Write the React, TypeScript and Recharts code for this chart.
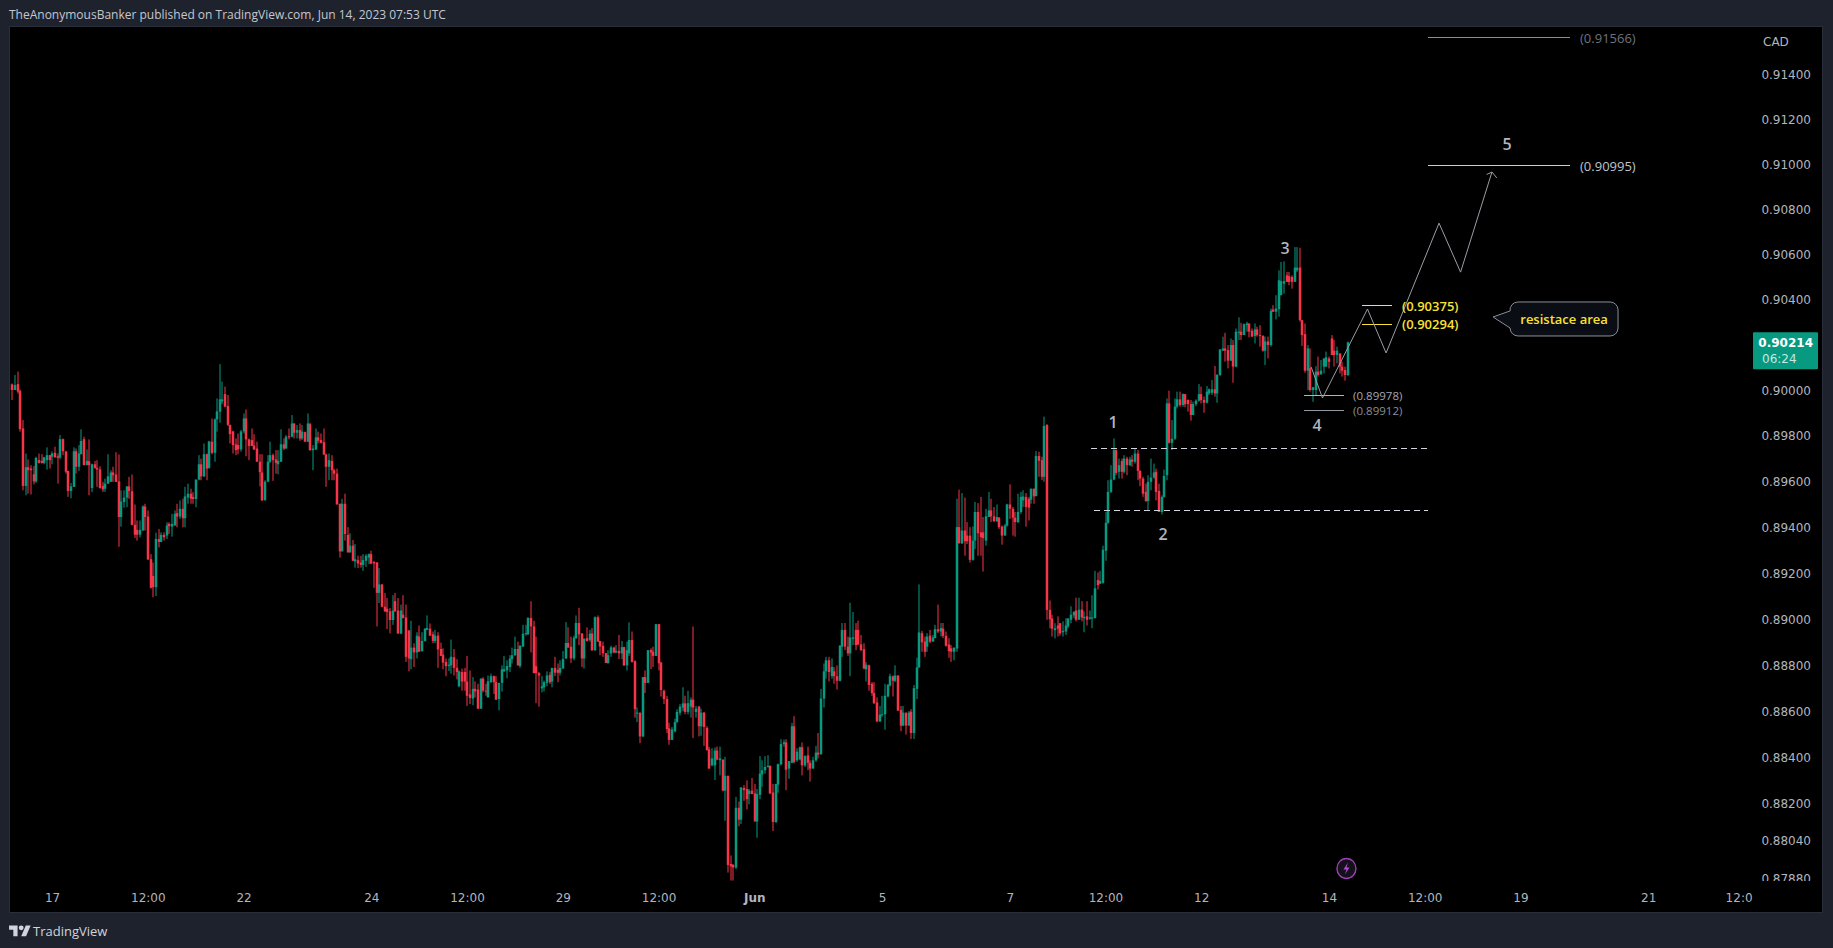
import React from "react";
import { ComposedChart, Bar, XAxis, YAxis, ReferenceLine, ReferenceDot } from "recharts";

// Hourly USD/CAD style candles: [open, high, low, close] in 1e-5 price units.
const candlesMid: number[][] = [
[90029,90033,89960,90004],[90004,90070,90004,90026],[90030,90085,89989,89997],[90000,90007,89821,89832],[89835,89872,89564,89583],
[89583,89725,89542,89665],[89665,89699,89549,89652],[89659,89674,89546,89652],[89634,89670,89590,89603],[89603,89711,89596,89706],
[89696,89725,89681,89684],[89693,89722,89681,89684],[89684,89711,89678,89708],[89696,89752,89655,89718],[89718,89718,89659,89696],
[89711,89734,89678,89725],[89728,89755,89708,89708],[89713,89725,89593,89706],[89708,89806,89699,89788],[89788,89791,89718,89735],
[89734,89737,89637,89645],[89649,89649,89535,89561],[89561,89596,89529,89581],[89579,89752,89579,89735],[89735,89747,89637,89667],
[89667,89762,89649,89725],[89722,89831,89722,89780],[89788,89799,89674,89674],[89674,89743,89674,89693],[89691,89787,89542,89674],
[89574,89681,89556,89678],[89678,89693,89659,89662],[89662,89696,89579,89655],[89656,89669,89571,89574],[89583,89601,89557,89568],
[89571,89615,89557,89593],[89593,89722,89593,89625],[89601,89652,89601,89642],[89642,89667,89601,89630],[89633,89731,89601,89601],
[89603,89721,89317,89447],[89447,89564,89405,89515],[89513,89564,89488,89532],[89532,89581,89490,89581],[89581,89623,89527,89561],
[89560,89633,89410,89413],[89413,89502,89356,89370],[89391,89432,89344,89370],[89370,89432,89358,89391],[89388,89498,89388,89493],
[89493,89505,89388,89447],[89449,89476,89259,89262],[89263,89285,89135,89138],[89190,89248,89097,89141],[89141,89379,89102,89351],
[89351,89395,89314,89338],[89338,89380,89337,89369],[89369,89380,89344,89359],[89366,89424,89351,89410],[89417,89424,89373,89407],
[89405,89461,89361,89417],[89410,89476,89410,89461],[89464,89505,89402,89449],[89449,89520,89439,89483],[89483,89527,89402,89442],
[89442,89579,89402,89537],[89532,89593,89505,89549],[89549,89571,89505,89527],[89535,89556,89505,89526],[89526,89611,89490,89611],
[89611,89718,89608,89678],[89678,89703,89608,89625],[89625,89769,89622,89722],[89722,89725,89608,89659],[89662,89781,89659,89778],
[89777,89879,89722,89728],[89728,89879,89689,89875],[89875,89967,89821,89910],[89909,90118,89860,89963],[89954,90041,89942,89963],
[89986,90019,89928,89931],[89934,89982,89846,89851],[89851,89851,89769,89810],[89822,89825,89725,89762],[89765,89791,89718,89740],
[89762,89813,89722,89743],[89743,89828,89733,89822],[89822,89901,89813,89879],[89879,89919,89713,89787],[89787,89791,89696,89758],
[89784,89835,89758,89758],[89760,89810,89740,89743],[89747,89777,89689,89689],[89689,89722,89581,89643],[89642,89722,89517,89520],
[89520,89608,89520,89602],[89602,89718,89600,89689],[89689,89777,89684,89718],[89718,89725,89605,89696],[89699,89740,89637,89684],
[89678,89740,89634,89693],[89689,89831,89689,89766],[89765,89791,89740,89747],[89747,89806,89747,89799],[89801,89835,89787,89796],
[89799,89894,89796,89857],[89857,89857,89791,89816],[89816,89850,89791,89828],[89828,89857,89781,89791],[89791,89850,89784,89821],
[89819,89821,89775,89777],[89777,89901,89775,89857],[89854,89860,89737,89740],[89740,89762,89652,89747],[89743,89835,89740,89796],
[89796,89821,89769,89781],[89784,89813,89769,89772],[89775,89835,89718,89721],[89721,89725,89579,89667],[89667,89725,89608,89696],
[89693,89718,89608,89652],[89652,89659,89608,89637],[89637,89659,89502,89502],[89505,89505,89270,89297],[89297,89527,89297,89505],
[89505,89549,89344,89373],[89369,89403,89291,89293],[89293,89376,89291,89322],[89322,89347,89256,89256],[89253,89329,89226,89263],
[89259,89278,89224,89244],[89248,89278,89226,89238],[89238,89285,89212,89259],[89256,89285,89229,89278],[89270,89288,89241,89285],
[89285,89300,89241,89244],[89250,89256,89138,89244],[89249,89249,88970,89116],[89116,89224,89072,89153],[89153,89153,89053,89056],
[89056,89116,89033,89036],[89047,89094,88959,89033],[89036,89050,88940,88998],[88998,89106,88977,89039],[89080,89116,89033,89036],
[89039,89094,88940,88939],[88939,89065,88936,89039],[89021,89106,89006,89006],[89009,89065,88816,88838],
];

const candlesLateMay: number[][] = [
[88952,88955,88775,88831],[88828,88995,88784,88878],[88878,88897,88794,88857],[88857,88945,88831,88930],[88926,88974,88860,88860],
[88863,88945,88860,88907],[88907,88963,88904,88960],[88955,89018,88955,88963],[88960,88983,88930,88930],[88936,88948,88897,88907],
[88907,88955,88897,88930],[88930,88945,88790,88870],[88872,88900,88842,88842],[88847,88875,88784,88813],[88816,88831,88754,88798],
[88798,88831,88776,88804],[88801,88913,88765,88838],[88836,88872,88757,88790],[88790,88828,88740,88772],[88710,88779,88706,88775],
[88772,88787,88691,88731],[88772,88790,88691,88731],[88731,88842,88625,88669],[88675,88779,88633,88660],[88657,88750,88628,88699],
[88699,88731,88662,88688],[88696,88721,88613,88613],[88613,88745,88613,88743],[88743,88750,88684,88691],[88691,88721,88669,88687],
[88662,88757,88662,88732],[88728,88765,88725,88754],[88754,88757,88677,88728],[88728,88754,88652,88652],[88655,88725,88606,88725],
[88725,88801,88687,88784],[88775,88842,88772,88784],[88779,88823,88745,88798],[88794,88845,88772,88831],[88828,88878,88809,88845],
[88845,88926,88842,88872],[88872,88904,88801,88801],[88798,88889,88790,88886],[88882,88977,88882,88938],[88936,88977,88930,88941],
[88936,89010,88933,89007],[89007,89080,88857,88970],[88970,88995,88767,88767],[88797,88926,88637,88767],[88767,88772,88622,88757],
[88701,88754,88684,88710],[88706,88735,88688,88728],[88725,88775,88710,88757],[88760,88772,88720,88728],[88731,88790,88706,88790],
[88790,88838,88754,88769],[88782,88809,88728,88769],[88769,88823,88757,88790],[88787,88863,88787,88828],[88831,88989,88828,88898],
[88898,88967,88878,88878],[88882,88926,88811,88831],[88831,88930,88823,88921],[88919,89018,88916,88985],[88985,89051,88889,88936],
[88939,88941,88794,88831],[88831,88919,88787,88916],[88919,88966,88904,88907],[88911,88955,88904,88939],[88939,88963,88863,88867],
[88867,89014,88863,89010],[89010,89018,88904,88904],[88907,88907,88845,88883],[88886,88904,88838,88854],[88854,88854,88811,88811],
[88811,88867,88808,88845],[88853,88886,88838,88879],[88878,88882,88853,88857],[88857,88889,88853,88864],[88864,88933,88828,88853],
[88853,88907,88828,88880],[88880,88882,88798,88801],[88801,88904,88779,88867],[88853,88988,88842,88911],[88911,88948,88813,88816],
[88819,88823,88574,88611],[88593,88618,88555,88596],[88596,88596,88464,88493],[88493,88750,88490,88750],[88750,88779,88681,88725],
[88725,88867,88725,88867],[88867,88875,88784,88857],[88860,88882,88794,88842],[88842,88980,88842,88980],[88980,88980,88779,88810],
[88813,88816,88666,88694],[88691,88696,88633,88655],[88655,88669,88508,88525],[88528,88552,88457,88478],[88478,88534,88478,88523],
[88515,88570,88511,88555],[88555,88611,88552,88599],[88596,88633,88584,88622],[88618,88706,88603,88636],[88636,88669,88589,88599],
[88599,88691,88589,88637],[88622,88662,88574,88652],[88652,88970,88486,88618],[88599,88625,88574,88613],[88622,88625,88493,88537],
[88537,88613,88496,88596],[88596,88599,88452,88534],[88530,88537,88432,88434],[88437,88449,88354,88354],[88368,88442,88364,88398],
[88368,88445,88305,88432],[88432,88449,88390,88393],[88390,88449,88325,88398],[88393,88393,88256,88259],[88259,88405,88129,88323],
[88323,88323,87906,87939],[87943,87980,87872,87933],[87939,87943,87872,87928],[87928,88232,87921,88185],[88185,88212,88105,88134],
[88134,88273,88115,88273],[88270,88283,88215,88261],[88266,88303,88178,88222],[88244,88266,88200,88259],[88259,88314,88244,88244],
[88247,88288,88126,88126],[88126,88266,88056,88244],[88241,88408,88222,88332],[88329,88390,88276,88347],[88347,88408,88332,88361],
[88361,88412,88358,88366],[88366,88368,88244,88247],[88251,88288,88085,88124],[88124,88288,88119,88288],[88285,88376,88251,88373],
];

const candlesEarlyJune: number[][] = [
[88373,88481,88368,88460],[88460,88479,88449,88467],[88467,88481,88261,88349],[88354,88386,88310,88386],[88379,88552,88379,88537],
[88537,88581,88376,88383],[88390,88442,88383,88427],[88394,88449,88390,88446],[88446,88467,88325,88368],[88368,88412,88361,88408],
[88411,88449,88347,88379],[88379,88390,88298,88354],[88354,88405,88354,88390],[88390,88452,88383,88423],[88423,88508,88398,88414],
[88417,88699,88412,88657],[88657,88809,88618,88775],[88775,88838,88743,88823],[88823,88838,88731,88772],[88754,88831,88743,88794],
[88775,88794,88721,88754],[88754,88801,88696,88734],[88734,88889,88731,88886],[88882,88985,88838,88955],[88955,88985,88867,88882],
[88882,88926,88842,88853],[88853,89073,88754,88922],[88916,89033,88889,88922],[88955,88985,88867,88889],[88955,88995,88889,88892],
[88892,88933,88863,88867],[88871,88897,88784,88787],[88784,88816,88731,88804],[88801,88804,88691,88716],[88721,88728,88669,88681],
[88681,88728,88633,88637],[88640,88662,88555,88558],[88558,88625,88555,88587],[88586,88669,88578,88589],[88589,88721,88522,88669],
[88666,88721,88662,88716],[88713,88765,88710,88754],[88753,88757,88666,88734],[88734,88801,88728,88757],[88757,88757,88603,88605],
[88608,88625,88515,88540],[88540,88625,88537,88596],[88596,88596,88501,88540],[88540,88603,88540,88596],[88600,88611,88482,88508],
[88508,88716,88482,88702],[88699,88834,88655,88792],[88792,89153,88790,88944],[88941,88951,88860,88901],[88904,88926,88838,88860],
[88882,88941,88860,88926],[88930,88955,88897,88904],[88904,88933,88904,88922],[88919,88977,88919,88958],[88958,89065,88941,88948],
[88948,88985,88926,88963],[88960,88985,88919,88929],[88929,88948,88882,88886],[88892,88919,88834,88863],[88875,88889,88816,88860],
[88860,88878,88823,88878],[88874,89527,88860,89403],[89403,89567,89332,89332],[89332,89552,89329,89388],[89388,89532,89278,89341],
[89366,89425,89329,89341],[89366,89403,89248,89260],[89260,89406,89256,89344],[89344,89513,89307,89469],[89469,89508,89278,89376],
[89380,89535,89278,89359],[89380,89447,89209,89355],[89344,89483,89322,89450],[89447,89557,89447,89476],[89476,89527,89425,89450],
[89450,89491,89425,89429],[89429,89502,89425,89447],[89444,89447,89395,89403],[89405,89410,89326,89366],[89366,89417,89366,89410],
[89410,89505,89405,89502],[89502,89590,89439,89483],[89483,89491,89366,89444],[89444,89469,89361,89425],[89425,89549,89420,89469],
[89469,89557,89461,89535],[89520,89564,89491,89537],[89535,89552,89405,89491],[89527,89535,89432,89488],[89523,89571,89505,89571],
[89571,89571,89505,89537],[89539,89736,89537,89714],[89714,89733,89623,89693],[89696,89711,89608,89623],[89623,89887,89601,89846],
[89850,89854,88999,89042],[89042,89083,88962,89001],[89004,89021,88926,88960],[88954,88984,88918,88962],[88974,89014,88926,88960],
[88984,88984,88930,88940],[88945,88992,88926,88951],[88948,89006,88933,88974],[88970,89006,88962,89004],[88999,89058,88984,89021],
[89018,89036,89006,89033],[89039,89095,88992,88999],[88999,89095,88999,89043],[89043,89080,88992,89009],[89006,89036,88945,89012],
[89014,89080,88974,88999],[89004,89039,88999,89009],[89004,89106,88962,89009],[89006,89212,89006,89136],[89172,89205,89131,89150],
[89156,89212,89156,89168],[89160,89322,89156,89304],[89300,89469,89256,89422],[89422,89608,89417,89557],[89557,89674,89552,89611],
[89611,89791,89608,89740],[89740,89743,89630,89640],[89645,89703,89615,89674],[89692,89703,89615,89645],[89645,89718,89637,89703],
[89703,89711,89630,89674],[89674,89711,89670,89699],[89699,89718,89667,89689],[89689,89747,89681,89725],[89725,89740,89608,89649],
[89649,89652,89582,89615],[89615,89623,89535,89549],[89557,89593,89513,89517],[89517,89630,89476,89601],[89601,89703,89564,89620],
[89620,89681,89615,89642],[89645,89659,89520,89557],[89561,89593,89469,89469],[89469,89542,89458,89535],[89535,89655,89532,89627],
];

const candlesMidJune: number[][] = [
[89630,89967,89608,89945],[89945,90001,89769,89772],[89772,89872,89740,89790],[89790,89967,89784,89931],[89931,89997,89923,89963],
[89963,89997,89930,89938],[89938,89989,89930,89986],[89986,89986,89928,89942],[89960,89963,89909,89942],[89942,89960,89869,89894],
[89894,89953,89894,89942],[89942,89963,89933,89957],[89957,90030,89953,89986],[89986,90019,89945,89960],[89960,89975,89904,89948],
[89948,90022,89945,89997],[89989,90011,89982,90007],[89992,90048,89982,90007],[90007,90110,89975,89989],[89989,90074,89948,90070],
[90070,90183,90066,90183],[90177,90239,90177,90187],[90187,90256,90129,90177],[90180,90202,90099,90133],[90133,90231,90133,90202],
[90202,90224,90036,90107],[90107,90275,90104,90261],[90256,90324,90224,90261],[90261,90300,90224,90246],[90246,90297,90246,90294],
[90290,90305,90261,90297],[90297,90297,90236,90261],[90265,90275,90239,90239],[90242,90297,90209,90271],[90271,90283,90239,90246],
[90246,90290,90195,90242],[90242,90246,90173,90177],[90177,90239,90114,90218],[90218,90239,90143,90202],[90202,90363,90195,90353],
[90359,90378,90349,90349],[90349,90422,90315,90363],[90360,90532,90327,90488],[90422,90569,90422,90484],[90473,90572,90429,90484],
[90510,90525,90481,90481],[90506,90525,90466,90481],[90503,90510,90451,90481],[90481,90635,90481,90544],[90532,90635,90525,90544],
[90544,90632,90305,90312],[90312,90312,90198,90246],[90250,90297,90080,90089],[90089,90202,90004,90187],[90100,90187,89997,90004],
[90004,90018,89952,90016],[90004,90109,89982,90085],[90085,90151,90063,90070],[90074,90136,90070,90089],[90107,90143,90077,90143],
[90107,90173,90107,90148],[90143,90151,90099,90128],[90231,90246,90158,90158],[90177,90224,90107,90158],[90158,90195,90121,90177],
[90165,90165,90077,90107],[90107,90129,90063,90089],[90092,90107,90045,90070],[90070,90217,90065,90214],
];

const priceTicks = [0.914,0.912,0.91,0.908,0.906,0.904,0.902,0.9,0.898,0.896,0.894,0.892,0.89,0.888,0.886,0.884,0.882,0.8804,0.8788];
const lastPrice = 0.90214;
const lastCountdown = "06:24";
const timeTicks = [16,52,88,136,172,208,244,280,328,376,412,448,496,532,568,616,650];
const timeLabels = ["17","12:00","22","24","12:00","29","12:00","Jun","5","7","12:00","12","14","12:00","19","21","12:0"];

const zigzag = [[489.1,0.90106],[493.4,0.89969],[510.3,0.90361],[517.3,0.90167],[537.2,0.90741],[545.3,0.90524],[557.1,0.90968]];
const arrowBarbs = [[555.1,0.90957],[558.9,0.90942]];
const levels = [
  { p: 0.91566, a: 533.1, b: 586.5, c: "#8b8e99", tx: 590.2, tc: "#6f727c", fs: 13, w: 400 },
  { p: 0.90995, a: 533.1, b: 586.5, c: "#c9ccd4", tx: 590.2, tc: "#c0c3cb", fs: 13, w: 400 },
  { p: 0.90375, a: 508.3, b: 519.5, c: "#fbe232", tx: 523.3, tc: "#fbe232", fs: 13, w: 600 },
  { p: 0.90294, a: 508.3, b: 519.5, c: "#fbe232", tx: 523.3, tc: "#fbe232", fs: 13, w: 600 },
  { p: 0.89978, a: 486.3, b: 501.5, c: "#b2b5be", tx: 504.9, tc: "#a3a6af", fs: 11.5, w: 400 },
  { p: 0.89912, a: 486.3, b: 501.5, c: "#9598a1", tx: 504.9, tc: "#8b8e99", fs: 11.5, w: 400 },
];
const dashed = [
  { p: 0.89748, a: 406.4, b: 532.7 },
  { p: 0.89477, a: 407.5, b: 533 },
];
const waveLabels = [
  { t: "1", k: 414.7, p: 0.89862 },
  { t: "2", k: 433.5, p: 0.89372 },
  { t: "3", k: 479.3, p: 0.9063 },
  { t: "4", k: 491.4, p: 0.8985 },
  { t: "5", k: 562.8, p: 0.91092 },
];
const calloutText = "resistace area";
const calloutAt = { k: 584.2, p: 0.90317 };
const signalAt = { k: 502.4, p: 0.87924 };

const FONT = "'DejaVu Sans', sans-serif";
const NOTE_FONT = "'Open Sans', sans-serif";
const UP = "#089981";
const DOWN = "#f7344a";

const rows = [...candlesMid, ...candlesLateMay, ...candlesEarlyJune, ...candlesMidJune].map((r, i) => ({
  k: i + 1,
  open: r[0] / 1e5,
  high: Math.max(r[0], r[1], r[3]) / 1e5,
  low: Math.min(r[0], r[2], r[3]) / 1e5,
  close: r[3] / 1e5,
}));

function Candle(props: any) {
  const { x, y, width, height, payload } = props;
  const { open, high, low, close } = payload;
  const span = Math.log(high / low) || 1e-9;
  const at = (v: number) => y + (height * Math.log(high / v)) / span;
  const color = close >= open ? UP : DOWN;
  const top = at(Math.max(open, close));
  const bottom = at(Math.min(open, close));
  const cx = x + width / 2;
  return (
    <g>
      <rect x={Math.round(cx) - 0.5} y={y} width={1} height={Math.max(height, 1)} fill={color} />
      <rect x={Math.round(cx) - 1.25} y={top} width={2.5} height={Math.max(bottom - top, 1)} fill={color} />
    </g>
  );
}

function PriceTick(props: any) {
  const { y, payload } = props;
  if (payload.value === lastPrice) {
    return (
      <g>
        <rect x={1753} y={y - 10} width={65} height={37} fill="#089981" rx={1} />
        <text x={1813} y={y + 1} textAnchor="end" dominantBaseline="central" fontFamily={FONT} fontSize={12} fontWeight={700} fill="#ffffff">0.90214</text>
        <text x={1762} y={y + 17} dominantBaseline="central" fontFamily={FONT} fontSize={12} fill="#c5e8e0">{lastCountdown}</text>
      </g>
    );
  }
  const label = payload.value.toFixed(5);
  return (
    <svg x={1750} y={y - 10} width={72} height={Math.min(20, 881 - (y - 10))} overflow="hidden">
      <text x={61} y={10} textAnchor="end" dominantBaseline="central" fontFamily={FONT} fontSize={12} fill="#b2b5be">{label}</text>
    </svg>
  );
}

function TimeTick(props: any) {
  const { x, y, index } = props;
  const label = timeLabels[index];
  return (
    <text x={x} y={y + 15} textAnchor="middle" dominantBaseline="central" fontFamily={FONT} fontSize={12}
      fontWeight={label === "Jun" ? 700 : 400} fill="#b2b5be">{label}</text>
  );
}

const WaveLabel = (t: string) => (p: any) => (
  <text x={p.cx} y={p.cy} textAnchor="middle" dominantBaseline="central" fontFamily={NOTE_FONT} fontSize={16} fontWeight={600} fill="#b2b5be">{t}</text>
);
const LevelLabel = (l: any) => (p: any) => (
  <text x={p.cx} y={p.cy} dominantBaseline="central" fontFamily={NOTE_FONT} fontSize={l.fs} fontWeight={l.w} fill={l.tc}>{`(${l.p.toFixed(5)})`}</text>
);
const Callout = (p: any) => {
  const { cx, cy } = p;
  const d = `M${cx - 46} ${cy - 17} H${cx + 46} a8 8 0 0 1 8 8 V${cy + 9} a8 8 0 0 1 -8 8 H${cx - 46} a8 8 0 0 1 -8 -8 L${cx - 71} ${cy - 2} L${cx - 54} ${cy - 8} a8 8 0 0 1 8 -9 Z`;
  return (
    <g>
      <path d={d} fill="#0a0d14" stroke="#8a8e98" strokeWidth={1} />
      <text x={cx} y={cy} textAnchor="middle" dominantBaseline="central" fontFamily={NOTE_FONT} fontSize={13} fontWeight={600} fill="#fbe232">{calloutText}</text>
    </g>
  );
};
const Signal = (p: any) => {
  const { cx, cy } = p;
  return (
    <g>
      <ellipse cx={cx} cy={cy} rx={9.5} ry={10} fill="#15101c" stroke="#9c3fb5" strokeWidth={1.4} />
      <path d={`M${cx + 1.5} ${cy - 6} L${cx - 3} ${cy + 1} H${cx} L${cx - 1.5} ${cy + 6} L${cx + 3} ${cy - 1} H${cx} Z`} fill="#b04fcc" />
    </g>
  );
};

const seg = (a: number[], b: number[]) => [{ x: a[0], y: a[1] }, { x: b[0], y: b[1] }] as any;

export default function App() {
  return (
    <div style={{ position: "absolute", left: 0, top: 0, width: 1833, height: 948, background: "#1e222d", overflow: "hidden" }}>
      <div style={{ position: "absolute", left: 9, top: 6, fontFamily: NOTE_FONT, fontSize: 12, lineHeight: "18px", color: "#c4c7cf", whiteSpace: "nowrap" }}>
        TheAnonymousBanker published on TradingView.com, Jun 14, 2023 07:53 UTC
      </div>
      <div style={{ position: "absolute", left: 9, top: 26, width: 1812, height: 885, background: "#000", border: "1px solid #2a2e39" }} />
      <div style={{ position: "absolute", left: 1763, top: 33, fontFamily: FONT, fontSize: 12, lineHeight: "18px", color: "#b2b5be" }}>CAD</div>
      <svg style={{ position: "absolute", left: 9, top: 923 }} width="22" height="17" viewBox="0 0 36 28">
        <path d="M14 22H7V11H0V4h14v18zM28 22h-8l7.5-18h8L28 22z" fill="#d1d4dc" />
        <circle cx="20" cy="8" r="4" fill="#d1d4dc" />
      </svg>
      <div style={{ position: "absolute", left: 33, top: 922, fontFamily: NOTE_FONT, fontSize: 13, lineHeight: "18px", color: "#d1d4dc" }}>TradingView</div>
      <div style={{ position: "absolute", left: 0, top: 0 }}>
        <ComposedChart width={1833} height={948} data={rows} margin={{ top: 27, right: 11, bottom: 36, left: 10 }}>
          <XAxis dataKey="k" type="number" domain={[0, 654.1]} allowDataOverflow ticks={timeTicks} interval={0}
            height={31} axisLine={false} tickLine={false} tickSize={0} tick={<TimeTick />} />
          <YAxis orientation="right" type="number" scale="log" domain={[0.8787, 0.91615]} allowDataOverflow
            ticks={[...priceTicks, lastPrice]} interval={0} width={72} axisLine={false} tickLine={false} tickSize={0} tick={<PriceTick />} />
          <Bar dataKey={(r: any) => [r.low, r.high]} barSize={2} shape={<Candle />} isAnimationActive={false} />
          {dashed.map((d, i) => (
            <ReferenceLine key={`d${i}`} segment={seg([d.a, d.p], [d.b, d.p])} stroke="#d1d4dc" strokeDasharray="6 4" strokeWidth={1} shapeRendering="crispEdges" />
          ))}
          {levels.map((l, i) => (
            <ReferenceLine key={`l${i}`} segment={seg([l.a, l.p], [l.b, l.p])} stroke={l.c} strokeWidth={1} shapeRendering="crispEdges" />
          ))}
          {zigzag.slice(1).map((pt, i) => (
            <ReferenceLine key={`z${i}`} segment={seg(zigzag[i], pt)} stroke="#9a9da6" strokeWidth={1} />
          ))}
          {arrowBarbs.map((pt, i) => (
            <ReferenceLine key={`a${i}`} segment={seg(zigzag[zigzag.length - 1], pt)} stroke="#9a9da6" strokeWidth={1} />
          ))}
          {levels.map((l, i) => (
            <ReferenceDot key={`t${i}`} x={l.tx} y={l.p} r={0} shape={LevelLabel(l)} />
          ))}
          {waveLabels.map((w, i) => (
            <ReferenceDot key={`w${i}`} x={w.k} y={w.p} r={0} shape={WaveLabel(w.t)} />
          ))}
          <ReferenceDot x={calloutAt.k} y={calloutAt.p} r={0} shape={Callout} />
          <ReferenceDot x={signalAt.k} y={signalAt.p} r={0} shape={Signal} />
        </ComposedChart>
      </div>
    </div>
  );
}
